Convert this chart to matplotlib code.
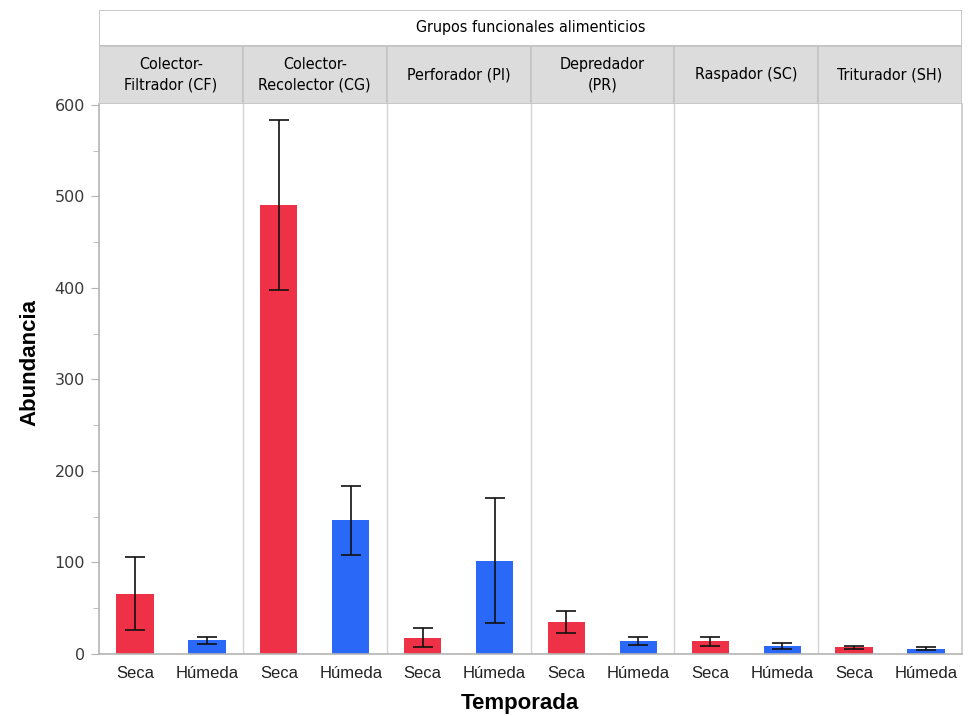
import numpy as np
import matplotlib
matplotlib.use("Agg")
from matplotlib import pyplot as plt
from matplotlib.patches import Rectangle

# abundance per feeding group and season (mean +/- error)
grupos = ['Colector-\nFiltrador (CF)', 'Colector-\nRecolector (CG)', 'Perforador (PI)',
          'Depredador\n(PR)', 'Raspador (SC)', 'Triturador (SH)']
temporadas = ['Seca', 'Húmeda']
seca = [66, 491, 18, 35, 14, 7.5]
seca_err = [40, 93, 10, 12, 5, 1.5]
humeda = [15, 146, 102, 14, 9, 6]
humeda_err = [4, 38, 68, 4.5, 3.5, 1.5]

rojo = '#EE3146'
azul = '#2A69F7'
gris = '#B4B4B4'
arial = ['Liberation Sans', 'DejaVu Sans']

fig = plt.figure(figsize=(9.68, 7.16), dpi=100)
W, H = 968, 716
x0, x1 = 99, 962
ytop, ybot = 104, 654
ax = fig.add_axes([x0 / W, (H - ybot) / H, (x1 - x0) / W, (ybot - ytop) / H])

n = len(grupos)
pos_seca = np.arange(n) * 2 + 0.5
pos_hum = np.arange(n) * 2 + 1.5
ax.bar(pos_seca, seca, width=0.52, color=rojo)
ax.bar(pos_hum, humeda, width=0.52, color=azul)
ax.errorbar(pos_seca, seca, yerr=seca_err, fmt='none', ecolor='#111111',
            elinewidth=1.2, capsize=7, capthick=1.2)
ax.errorbar(pos_hum, humeda, yerr=humeda_err, fmt='none', ecolor='#111111',
            elinewidth=1.2, capsize=7, capthick=1.2)

# panel separators
for k in range(1, n):
    ax.axvline(2 * k, color='#D2D2D2', lw=1)

ax.set_xlim(0, 2 * n)
ax.set_ylim(0, 601)
ax.set_yticks(range(0, 601, 100))
ax.set_yticks(range(50, 600, 100), minor=True)
ax.tick_params(axis='y', which='major', length=6, color=gris, labelsize=11.5,
               labelcolor='#3A3A3A', pad=4)
ax.tick_params(axis='y', which='minor', length=4, color=gris)
xt = np.sort(np.concatenate([pos_seca, pos_hum]))
ax.set_xticks(xt)
ax.set_xticklabels(temporadas * n, fontsize=12, color='#222222', family=arial)
ax.tick_params(axis='x', length=0, pad=9)
for s in ax.spines.values():
    s.set_color(gris)
    s.set_linewidth(1.2)
ax.spines['right'].set_color('#C8C8C8')
ax.spines['top'].set_visible(False)

ax.set_ylabel('Abundancia', fontsize=16, fontweight='bold', family=arial)
ax.yaxis.set_label_coords(-0.068, 0.53)
ax.set_xlabel('Temporada', fontsize=16, fontweight='bold', family=arial)
ax.xaxis.set_label_coords(0.488, -0.07)

# header with group names
htop = 10
hax = fig.add_axes([x0 / W, (H - ytop) / H, (x1 - x0) / W, (ytop - htop) / H])
hax.set_xlim(0, 2 * n)
hax.set_ylim(0, ytop - htop)
hax.axis('off')
hfont = dict(family='DejaVu Sans', fontstretch='condensed', fontsize=11.5,
             color='#000000')
hax.add_patch(Rectangle((0, 58), 2 * n, 36, facecolor='white', edgecolor='#BEBEBE', lw=1.2))
hax.text(n, 76, 'Grupos funcionales alimenticios', ha='center', va='center', **hfont)
for k, g in enumerate(grupos):
    hax.add_patch(Rectangle((2 * k, 0), 2, 58, facecolor='#DCDCDC', edgecolor='#C4C4C4', lw=1.2))
    hax.text(2 * k + 1, 29, g, ha='center', va='center', linespacing=1.45, **hfont)

fig.savefig('out.png', dpi=100)
